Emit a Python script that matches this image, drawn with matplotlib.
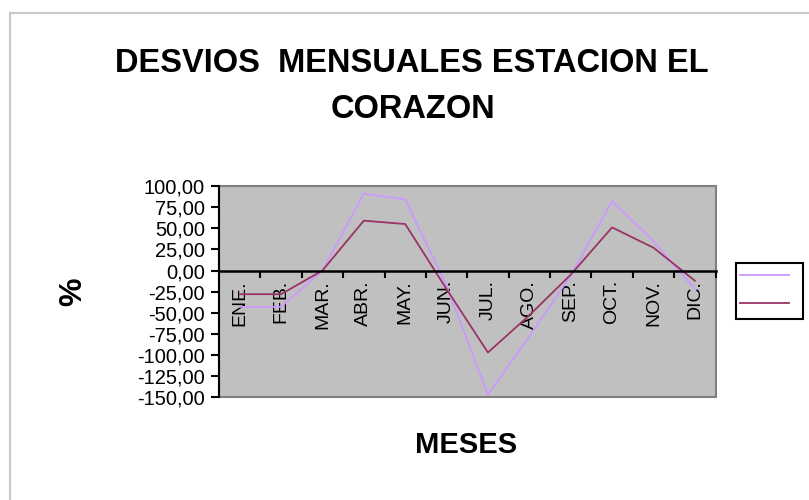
import matplotlib
matplotlib.use("Agg")
import matplotlib.pyplot as plt
from matplotlib.lines import Line2D
from matplotlib.ticker import FixedLocator, FuncFormatter, NullFormatter

plt.rcParams["font.family"] = ["Liberation Sans", "DejaVu Sans"]

# monthly deviations (%)
MESES = ["ENE.", "FEB.", "MAR.", "ABR.", "MAY.", "JUN.",
         "JUL.", "AGO.", "SEP.", "OCT.", "NOV.", "DIC."]
serie_1 = [-43, -43, 0, 91, 84, -18, -147, -78, -6, 82, 35, -22]
serie_2 = [-28, -28, 0, 59, 55, -22, -97, -53, -5, 51, 27, -12]
Y_TICKS = [-150, -125, -100, -75, -50, -25, 0, 25, 50, 75, 100]
TITULO = ["DESVIOS  MENSUALES ESTACION EL", "CORAZON"]

COLOR_1 = "#CC99FF"
COLOR_2 = "#993366"
W, H = 809, 500

fig = plt.figure(figsize=(W / 100, H / 100), dpi=100)
ax = fig.add_axes([219 / W, 1 - 397.3 / H, 496.5 / W, 211.3 / H])
ax.set_facecolor("#C0C0C0")

x = list(range(len(MESES)))
ax.plot(x, serie_1, color=COLOR_1, lw=1.3)
ax.plot(x, serie_2, color=COLOR_2, lw=1.3)

ax.set_xlim(-0.5, len(MESES) - 0.5)
ax.set_ylim(Y_TICKS[0], Y_TICKS[-1])

# frame of the plot area (grey), value axis black, category axis at zero
ax.patch.set_edgecolor("#808080")
ax.patch.set_linewidth(1.5)
for side in ("top", "right"):
    ax.spines[side].set_visible(False)
ax.spines["left"].set_color("black")
ax.spines["left"].set_linewidth(1.5)
ax.spines["bottom"].set_position(("data", 0))
ax.spines["bottom"].set_color("black")
ax.spines["bottom"].set_linewidth(1.8)

ax.set_yticks(Y_TICKS)
ax.yaxis.set_major_formatter(FuncFormatter(lambda v, p: f"{v:.2f}".replace(".", ",")))
ax.tick_params(axis="y", direction="out", length=6, width=1.5, pad=4,
               labelsize=14.5, colors="black")

bounds = [i + 0.5 for i in range(len(MESES))]
ax.xaxis.set_major_locator(FixedLocator(bounds))
ax.xaxis.set_major_formatter(NullFormatter())
ax.xaxis.set_minor_locator(FixedLocator(x))
ax.set_xticklabels(MESES, minor=True, rotation=90, fontsize=14)
ax.tick_params(axis="x", which="major", direction="out", length=5, width=1.5)
ax.tick_params(axis="x", which="minor", length=0, pad=7)

leg_handles = [Line2D([], [], color=COLOR_1, lw=1.3),
               Line2D([], [], color=COLOR_2, lw=1.3)]
leg = fig.legend(leg_handles, ["", ""], loc="center left",
                 bbox_to_anchor=(736 / W, 1 - 291 / H), fontsize=14,
                 handlelength=2.5, handleheight=0.75, handletextpad=0.5,
                 labelspacing=0.55, borderpad=0.22, borderaxespad=0,
                 fancybox=False, framealpha=1)
leg.get_frame().set_edgecolor("black")
leg.get_frame().set_linewidth(1.5)

fig.text(412 / W, 1 - 60 / H, TITULO[0], ha="center", va="center_baseline",
         fontsize=23.5, fontweight="bold")
fig.text(413 / W, 1 - 106 / H, TITULO[1], ha="center", va="center_baseline",
         fontsize=23.5, fontweight="bold")
fig.text(73 / W, 1 - 292 / H, "%", rotation=90, ha="center", va="center",
         fontsize=23, fontweight="bold")
fig.text(466 / W, 1 - 445 / H, "MESES", ha="center", va="center",
         fontsize=21, fontweight="bold")

# light grey border of the chart area
fig.add_artist(Line2D([10 / W, 1], [1 - 13 / H, 1 - 13 / H], color="#C8C8C8", lw=1.5))
fig.add_artist(Line2D([10 / W, 10 / W], [0, 1 - 13 / H], color="#C8C8C8", lw=1.5))

fig.savefig("out.png", dpi=100)
